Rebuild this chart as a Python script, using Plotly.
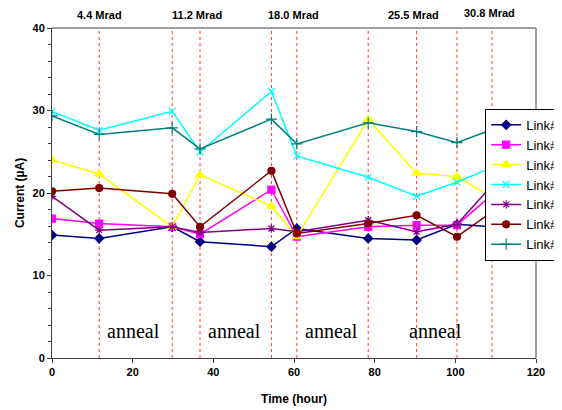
import plotly.graph_objects as go

time_h = [0, 11.7, 29.8, 36.7, 54.4, 60.7, 78.4, 90.4, 100.4, 109.1]

link1 = [14.9, 14.5, 15.9, 14.1, 13.5, 15.7, 14.5, 14.3, 16.2, 15.9]
link2 = [16.9, 16.3, 15.9, 15.0, 20.4, 14.7, 15.9, 16.1, 16.1, 19.8]
link3 = [24.0, 22.3, 15.9, 22.2, 18.4, 14.7, 28.9, 22.4, 22.0, 19.5]
link4 = [29.9, 27.6, 29.9, 25.0, 32.3, 24.5, 21.9, 19.6, 21.3, 23.1]
link5 = [19.6, 15.5, 15.9, 15.2, 15.7, 15.3, 16.7, 15.3, 16.2, 20.9]
link6 = [20.2, 20.6, 19.9, 15.9, 22.7, 15.1, 16.3, 17.3, 14.7, 17.7]
link7 = [29.35, 27.1, 27.9, 25.35, 28.95, 25.95, 28.5, 27.45, 26.1, 27.7]

series_names = ["Link#1", "Link#2", "Link#3", "Link#4", "Link#5", "Link#6", "Link#7"]
series_values = [link1, link2, link3, link4, link5, link6, link7]
colors = ["#000080", "#ff00ff", "#ffff00", "#00ffff", "#800080", "#800000", "#008080"]
symbols = ["diamond", "square", "triangle-up", "x-thin-open", "asterisk-open", "circle", "cross-thin-open"]
sizes = [7, 7, 8, 7, 7, 7, 8]

dose_line_times = [11.7, 29.8, 36.7, 54.4, 60.7, 78.4, 90.4, 100.4, 109.1]
dose_labels = ["4.4 Mrad", "11.2 Mrad", "18.0 Mrad", "25.5 Mrad", "30.8 Mrad"]
dose_label_times = [11.8, 35.9, 59.9, 89.7, 108.5]
dose_label_shift = [13, 13, 13, 13, 15]
anneal_times = [20.3, 45.3, 69.2, 95.0]
anneal_text = "anneal"
anneal_y = 3.3

fig = go.Figure()
for name, vals, c, s, sz in zip(series_names, series_values, colors, symbols, sizes):
    fig.add_trace(go.Scatter(
        x=time_h, y=vals, name=name, mode="lines+markers",
        line=dict(color=c, width=1.5),
        marker=dict(symbol=s, size=sz, color=c, line=dict(color=c, width=1.2)),
    ))

for t in dose_line_times:
    fig.add_shape(type="line", x0=t, x1=t, y0=0, y1=1, xref="x", yref="paper",
                  line=dict(color="#ff3b30", width=1, dash="3px,3px"), layer="below")

for lbl, t, sh in zip(dose_labels, dose_label_times, dose_label_shift):
    fig.add_annotation(x=t, y=1, xref="x", yref="paper", yanchor="middle", yshift=sh,
                       text="<b>%s</b>" % lbl, showarrow=False,
                       font=dict(family="Liberation Sans, Arial", size=11, color="#000"))

for t in anneal_times:
    fig.add_annotation(x=t, y=anneal_y, xref="x", yref="y", text=anneal_text, showarrow=False,
                       font=dict(family="Liberation Serif, Times New Roman", size=20, color="#000"))

axis_font = dict(family="Liberation Sans, Arial", size=11, color="#000")
fig.update_layout(
    width=562, height=410,
    margin=dict(l=44, r=34, t=20, b=60, autoexpand=False),
    paper_bgcolor="white", plot_bgcolor="white",
    font=dict(family="Liberation Sans, Arial", size=11, color="#000"),
    showlegend=True,
    legend=dict(x=0.895, y=0.755, xanchor="left", yanchor="top",
                bgcolor="white", bordercolor="#000", borderwidth=1,
                font=dict(family="Liberation Sans, Arial", size=13, color="#000"),
                itemwidth=30, tracegroupgap=0),
    xaxis=dict(range=[0, 120], tickvals=[0, 20, 40, 60, 80, 100, 120],
               ticktext=["<b>%d</b>" % v for v in [0, 20, 40, 60, 80, 100, 120]],
               showgrid=False, zeroline=False, showline=True, linecolor="#404040", linewidth=1,
               mirror=False, ticks="outside", ticklen=4, tickcolor="#404040",
               tickfont=axis_font,
               title=dict(text="<b>Time (hour)</b>", font=dict(family="Liberation Sans, Arial", size=12), standoff=17)),
    yaxis=dict(range=[0, 40], tickvals=[0, 10, 20, 30, 40],
               ticktext=["<b>%d</b>" % v for v in [0, 10, 20, 30, 40]],
               showgrid=False, zeroline=False, showline=True, linecolor="#404040", linewidth=1,
               ticks="outside", ticklen=4, tickcolor="#404040",
               minor=dict(dtick=2, ticks="outside", ticklen=3, tickcolor="#404040"),
               tickfont=axis_font,
               title=dict(text="<b>Current (µA)</b>", font=dict(family="Liberation Sans, Arial", size=12), standoff=5)),
)
# top and right border of the plot area
fig.add_shape(type="line", x0=0, x1=1, y0=1, y1=1, xref="paper", yref="paper",
              line=dict(color="#808080", width=1.5))
fig.add_shape(type="line", x0=1, x1=1, y0=0, y1=1, xref="paper", yref="paper",
              line=dict(color="#808080", width=1.5))

fig.write_html("out.html")
